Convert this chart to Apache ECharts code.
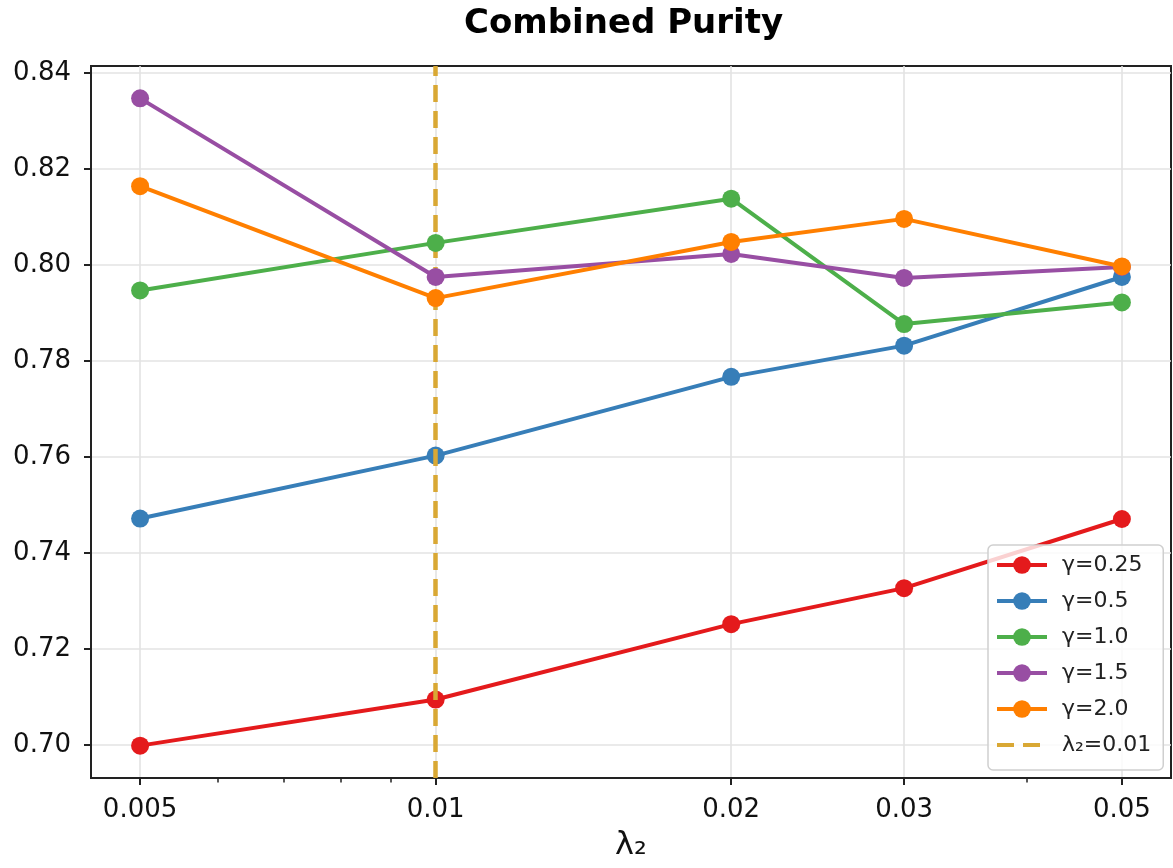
<!DOCTYPE html>
<html>
<head>
<meta charset="utf-8">
<title>Combined Purity</title>
<script src="https://cdn.jsdelivr.net/npm/echarts@6/dist/echarts.min.js"></script>
<style>
  html, body { margin: 0; padding: 0; background: #fff; }
  #chart { width: 1173px; height: 868px; }
</style>
</head>
<body>
<div id="chart"></div>
<script>
// λ₂ values (log-spaced x axis) and their tick labels
const lambdaValues = [0.005, 0.01, 0.02, 0.03, 0.05];
const lambdaTickLabels = ['0.005', '0.01', '0.02', '0.03', '0.05'];
const lambdaMinorTicks = [0.006, 0.007, 0.008, 0.009, 0.04];
const purityTicks = [0.70, 0.72, 0.74, 0.76, 0.78, 0.80, 0.82, 0.84];

// Combined purity per γ
const seriesNames = ['γ=0.25', 'γ=0.5', 'γ=1.0', 'γ=1.5', 'γ=2.0'];
const purityGamma025 = [0.6999, 0.7095, 0.7252, 0.7327, 0.7471];
const purityGamma05  = [0.7472, 0.7603, 0.7767, 0.7832, 0.7975];
const purityGamma10  = [0.7947, 0.8046, 0.8138, 0.7877, 0.7922];
const purityGamma15  = [0.8347, 0.7975, 0.8023, 0.7973, 0.7996];
const purityGamma20  = [0.8164, 0.7931, 0.8048, 0.8096, 0.7997];
const seriesColors = ['#e41a1c', '#377eb8', '#4daf4a', '#984ea3', '#ff7f00'];

// Selected regularisation strength
const refLambda = 0.01;
const refLabel = 'λ₂=0.01';

const allSeries = [purityGamma025, purityGamma05, purityGamma10, purityGamma15, purityGamma20];

// x axis works in log10 space; pad by 5% of the span on each side
const lg = Math.log10;
const xLo = lg(Math.min(...lambdaValues));
const xHi = lg(Math.max(...lambdaValues));
const xPad = 0.05 * (xHi - xLo);
const flat = allSeries.flat();
const yLo = Math.min(...flat), yHi = Math.max(...flat);
const yPad = 0.05 * (yHi - yLo);

const FONT = '"DejaVu Sans", "Noto Sans", sans-serif';

function lambdaLabel(v) {
  for (let i = 0; i < lambdaValues.length; i++) {
    if (Math.abs(lg(lambdaValues[i]) - v) < 1e-6) return lambdaTickLabels[i];
  }
  return '';
}

const lineSeries = allSeries.map((vals, i) => ({
  name: seriesNames[i],
  type: 'line',
  xAxisIndex: 0,
  data: vals.map((v, j) => [lg(lambdaValues[j]), v]),
  symbol: 'circle',
  symbolSize: 18,
  color: seriesColors[i],
  lineStyle: { width: 4, color: seriesColors[i] },
  itemStyle: { color: seriesColors[i] },
  z: 3 + i,
  animation: false
}));

const refSeries = {
  name: refLabel,
  type: 'line',
  xAxisIndex: 0,
  data: [],
  symbol: 'none',
  color: '#d9a834',
  lineStyle: { width: 4.5, type: [17, 9], color: '#d9a834' },
  markLine: {
    silent: true,
    symbol: 'none',
    label: { show: false },
    lineStyle: { width: 4.5, type: [17, 9], color: '#d9a834' },
    data: [{ xAxis: lg(refLambda) }],
    animation: false
  },
  z: 10,
  animation: false
};

const chart = echarts.init(document.getElementById('chart'), null, { renderer: 'canvas' });

chart.setOption({
  backgroundColor: '#ffffff',
  animation: false,
  title: {
    text: 'Combined Purity',
    left: 464,
    top: 7,
    padding: 0,
    textStyle: { fontFamily: FONT, fontWeight: 'bold', fontSize: 34, color: '#000' }
  },
  grid: {
    left: 91, right: 2, top: 66, bottom: 90,
    show: true, borderColor: '#222', borderWidth: 2, backgroundColor: 'transparent'
  },
  legend: {
    orient: 'vertical',
    left: 988,
    top: 545,
    padding: [9, 12, 14, 7],
    itemWidth: 50,
    itemHeight: 22,
    itemGap: 14,
    backgroundColor: 'rgba(255,255,255,0.8)',
    borderColor: '#cfcfcf',
    borderWidth: 1.5,
    borderRadius: 5,
    lineStyle: { width: 4 },
    textStyle: { fontFamily: FONT, fontSize: 22, color: '#222', padding: [0, 0, 0, 10] },
    data: seriesNames.map(n => ({ name: n })).concat([
      { name: refLabel, itemStyle: { opacity: 0 } }
    ])
  },
  xAxis: [
    {
      type: 'value',
      min: xLo - xPad,
      max: xHi + xPad,
      position: 'bottom',
      name: 'λ₂',
      nameLocation: 'middle',
      nameGap: 52,
      nameTextStyle: { fontFamily: FONT, fontSize: 32, color: '#111' },
      axisLine: { show: true, onZero: false, lineStyle: { color: '#222', width: 2 } },
      axisTick: {
        show: true, length: 7, inside: false,
        customValues: lambdaValues.map(lg),
        lineStyle: { color: '#222', width: 2 }
      },
      axisLabel: {
        show: true, margin: 19,
        customValues: lambdaValues.map(lg),
        formatter: lambdaLabel,
        fontFamily: FONT, fontSize: 26, color: '#111'
      },
      splitLine: { show: true, lineStyle: { color: '#e3e3e3', width: 1.6 } }
    },
    {
      type: 'value',
      min: xLo - xPad,
      max: xHi + xPad,
      position: 'bottom',
      axisLine: { show: false },
      axisTick: {
        show: true, length: 4.5, inside: false,
        customValues: lambdaMinorTicks.map(lg),
        lineStyle: { color: '#222', width: 1.5 }
      },
      axisLabel: { show: false },
      splitLine: { show: false }
    }
  ],
  yAxis: {
    type: 'value',
    min: yLo - yPad,
    max: yHi + yPad,
    axisLine: { show: true, lineStyle: { color: '#222', width: 2 } },
    axisTick: {
      show: true, length: 7, inside: false,
      customValues: purityTicks,
      lineStyle: { color: '#222', width: 2 }
    },
    axisLabel: {
      show: true, margin: 20,
      customValues: purityTicks,
      formatter: v => v.toFixed(2),
      fontFamily: FONT, fontSize: 26, color: '#111'
    },
    splitLine: { show: true, lineStyle: { color: '#e3e3e3', width: 1.6 } }
  },
  series: lineSeries.concat([refSeries])
});
</script>
</body>
</html>
